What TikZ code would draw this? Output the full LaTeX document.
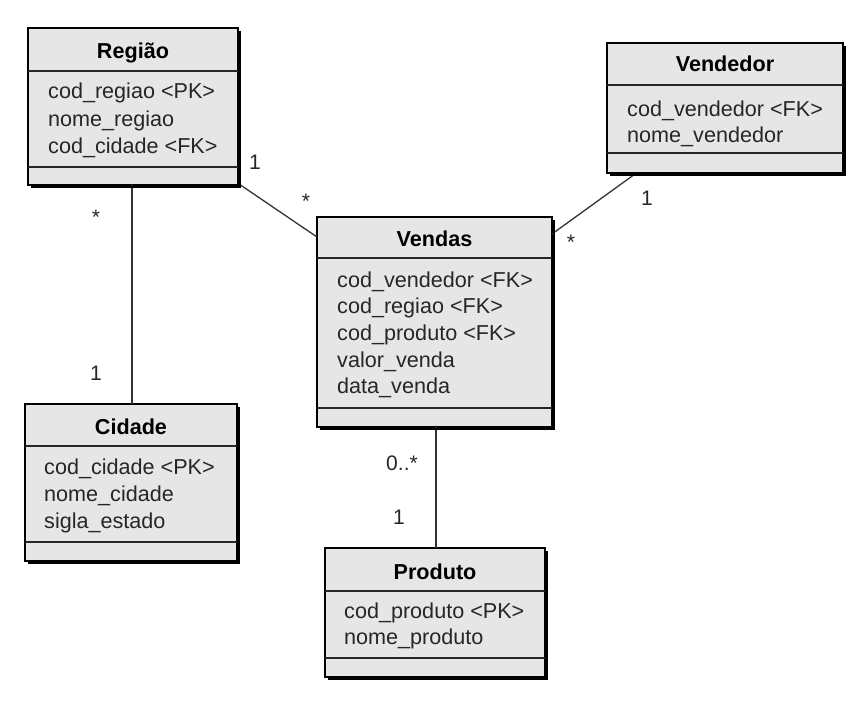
\documentclass[tikz,border=0pt]{standalone}
\usepackage{fontspec}
\setmainfont{Liberation Sans}
\usetikzlibrary{calc}
\definecolor{boxgray}{HTML}{E6E6E6}
\definecolor{txtgray}{HTML}{262626}
\begin{document}
\begin{tikzpicture}[x=1pt,y=-1pt,
  txt/.style={anchor=base west, inner sep=0pt, font=\fontsize{21.6}{25}\selectfont, text=txtgray},
  ttl/.style={anchor=base, inner sep=0pt, font=\fontsize{21.6}{25}\selectfont\bfseries, text=black},
  lbl/.style={inner sep=0pt, font=\fontsize{21}{24}\selectfont, text=txtgray},
  conn/.style={draw=black!80, line width=1.3pt},
  sep/.style={draw=black!85, line width=1.1pt},
  classbox/.style={fill=boxgray, draw=black, line width=1.6pt, inner sep=0pt, outer sep=0pt, anchor=north west},
  shadowline/.style={draw=black, line width=2pt}
]
\useasboundingbox (0,0) rectangle (865,701);

% class boxes
\node[classbox, minimum width=210pt, minimum height=157pt] (regiao) at (28,28) {};
\node[classbox, minimum width=236pt, minimum height=130pt] (vendedor) at (607,43) {};
\node[classbox, minimum width=235pt, minimum height=210pt] (vendas) at (317,217) {};
\node[classbox, minimum width=212pt, minimum height=157pt] (cidade) at (25,404) {};
\node[classbox, minimum width=220pt, minimum height=129pt] (produto) at (325,548) {};

% connectors
\draw[conn] ($(regiao.south)+(-1,0)$) -- ($(cidade.north)+(1,0)$);
\draw[conn] ($(regiao.south east)+(1,-1)$) -- ($(vendas.north west)+(0,20)$);
\draw[conn] ($(vendedor.south west)+(28,1)$) -- ($(vendas.north east)+(0,17)$);
\draw[conn] ($(vendas.south)+(1.5,0)$) -- ($(produto.north)+(1,0)$);

% shadows
\foreach \b in {regiao,vendedor,vendas,cidade,produto}{
  \draw[shadowline] ($(\b.north east)+(1.6,3)$) -- ($(\b.south east)+(1.6,1.6)$) -- ($(\b.south west)+(3,1.6)$);
}

% Regiao
\draw[sep] (28,71) -- (238,71);
\draw[sep] (28,167) -- (238,167);
\node[ttl] (regiaoT) at (133,59) {Região};
\node[txt] (r1) at (48,99) {cod\_regiao <PK>};
\node[txt] (r2) at (48,126.5) {nome\_regiao};
\node[txt] (r3) at (48,153.5) {cod\_cidade <FK>};

% Vendedor
\draw[sep] (607,85) -- (843,85);
\draw[sep] (607,153) -- (843,153);
\node[ttl] (vendedorT) at (725,72) {Vendedor};
\node[txt] (vd1) at (627,117) {cod\_vendedor <FK>};
\node[txt] (vd2) at (627,142.5) {nome\_vendedor};

% Vendas
\draw[sep] (317,258) -- (552,258);
\draw[sep] (317,408) -- (552,408);
\node[ttl] (vendasT) at (434.5,246) {Vendas};
\node[txt] (v1) at (337,287.5) {cod\_vendedor <FK>};
\node[txt] (v2) at (337,313.5) {cod\_regiao <FK>};
\node[txt] (v3) at (337,340.5) {cod\_produto <FK>};
\node[txt] (v4) at (337,367.5) {valor\_venda};
\node[txt] (v5) at (337,393.5) {data\_venda};

% Cidade
\draw[sep] (25,446) -- (237,446);
\draw[sep] (25,542) -- (237,542);
\node[ttl] (cidadeT) at (131,434) {Cidade};
\node[txt] (c1) at (44,474.5) {cod\_cidade <PK>};
\node[txt] (c2) at (44,501.5) {nome\_cidade};
\node[txt] (c3) at (44,528.5) {sigla\_estado};

% Produto
\draw[sep] (325,591) -- (545,591);
\draw[sep] (325,658) -- (545,658);
\node[ttl] (produtoT) at (435,579) {Produto};
\node[txt] (p1) at (344,618.5) {cod\_produto <PK>};
\node[txt] (p2) at (344,644.5) {nome\_produto};

% multiplicities
\node[lbl] (m1) at (255,162) {1};
\node[lbl] (m2) at (306,201) {*};
\node[lbl] (m3) at (647,198) {1};
\node[lbl] (m4) at (571,242) {*};
\node[lbl] (m5) at (96,217) {*};
\node[lbl] (m6) at (96,373) {1};
\node[lbl] (m7) at (402,463) {0..*};
\node[lbl] (m8) at (399,517) {1};
\end{tikzpicture}
\end{document}
